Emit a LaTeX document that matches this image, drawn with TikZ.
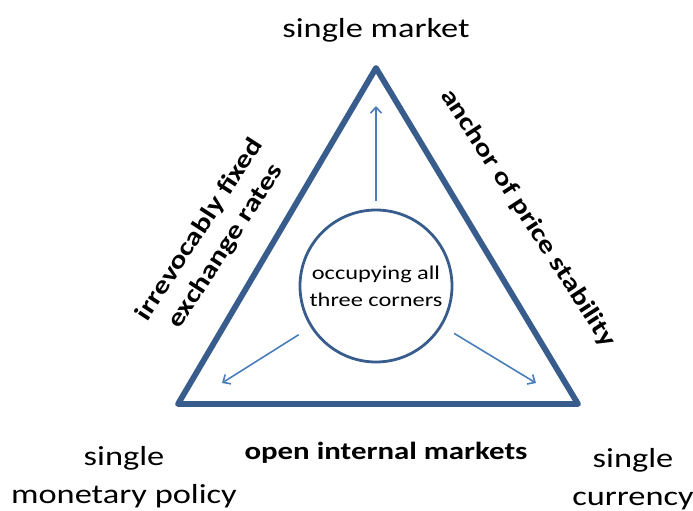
\documentclass[tikz,border=0pt]{standalone}
\usepackage{fontspec}
\setmainfont[FakeStretch=1.25]{Carlito}
\usetikzlibrary{positioning, arrows.meta}
\definecolor{rimblue}{RGB}{56,93,140}
\definecolor{spokeblue}{RGB}{74,126,187}
\tikzset{
  rim/.style={
    line width=5.8pt, draw=rimblue,
    line join=round
  },
  hub/.style={
    circle, draw=rimblue, line width=2.8pt,
    minimum size=152pt, inner sep=0pt,
    align=center, font=\fontsize{19.5}{27}\selectfont
  },
  spoke/.style={->, draw=spokeblue, line width=1.6pt, shorten <=8pt},
  corner/.style={align=center, font=\fontsize{27.5}{38}\selectfont},
  side/.style={align=center, font=\fontsize{24.7}{31}\selectfont\bfseries}
}

\begin{document}
\begin{tikzpicture}[x=1pt, y=-1pt, node distance=22pt, >={Straight Barb[length=6pt,width=11pt]}]
  \useasboundingbox (0,0) rectangle (693,511);

  % corners of the triangle
  \coordinate (apex) at (376,68);
  \coordinate (bl) at (178,404);
  \coordinate (br) at (578,404);
  \draw[rim] (apex) -- (bl) -- (br) -- cycle;

  \node[hub] (hub) at (376,286) {occupying all\\three corners};

  % arrow ends
  \coordinate (toapex) at (376,106);
  \coordinate (tobl) at (222,383);
  \coordinate (tobr) at (536,383);
  \draw[spoke] (hub) -- (toapex);
  \draw[spoke, shorten <=14pt] (hub) -- (tobl);
  \draw[spoke, shorten <=14pt] (hub) -- (tobr);

  % labels
  \node[corner, above=of apex] (market) {single market};
  \node[corner] (policy) at (124,477) {single\\monetary policy};
  \node[corner] (currency) at (633,479) {single\\currency};
  \node[side] (open) at (386,453) {open internal markets};
  \node[side, rotate=57] (fixed) at (213,238) {irrevocably fixed\\exchange rates};
  \node[side, rotate=-57] (anchor) at (528,218) {anchor of price stability};
\end{tikzpicture}
\end{document}
